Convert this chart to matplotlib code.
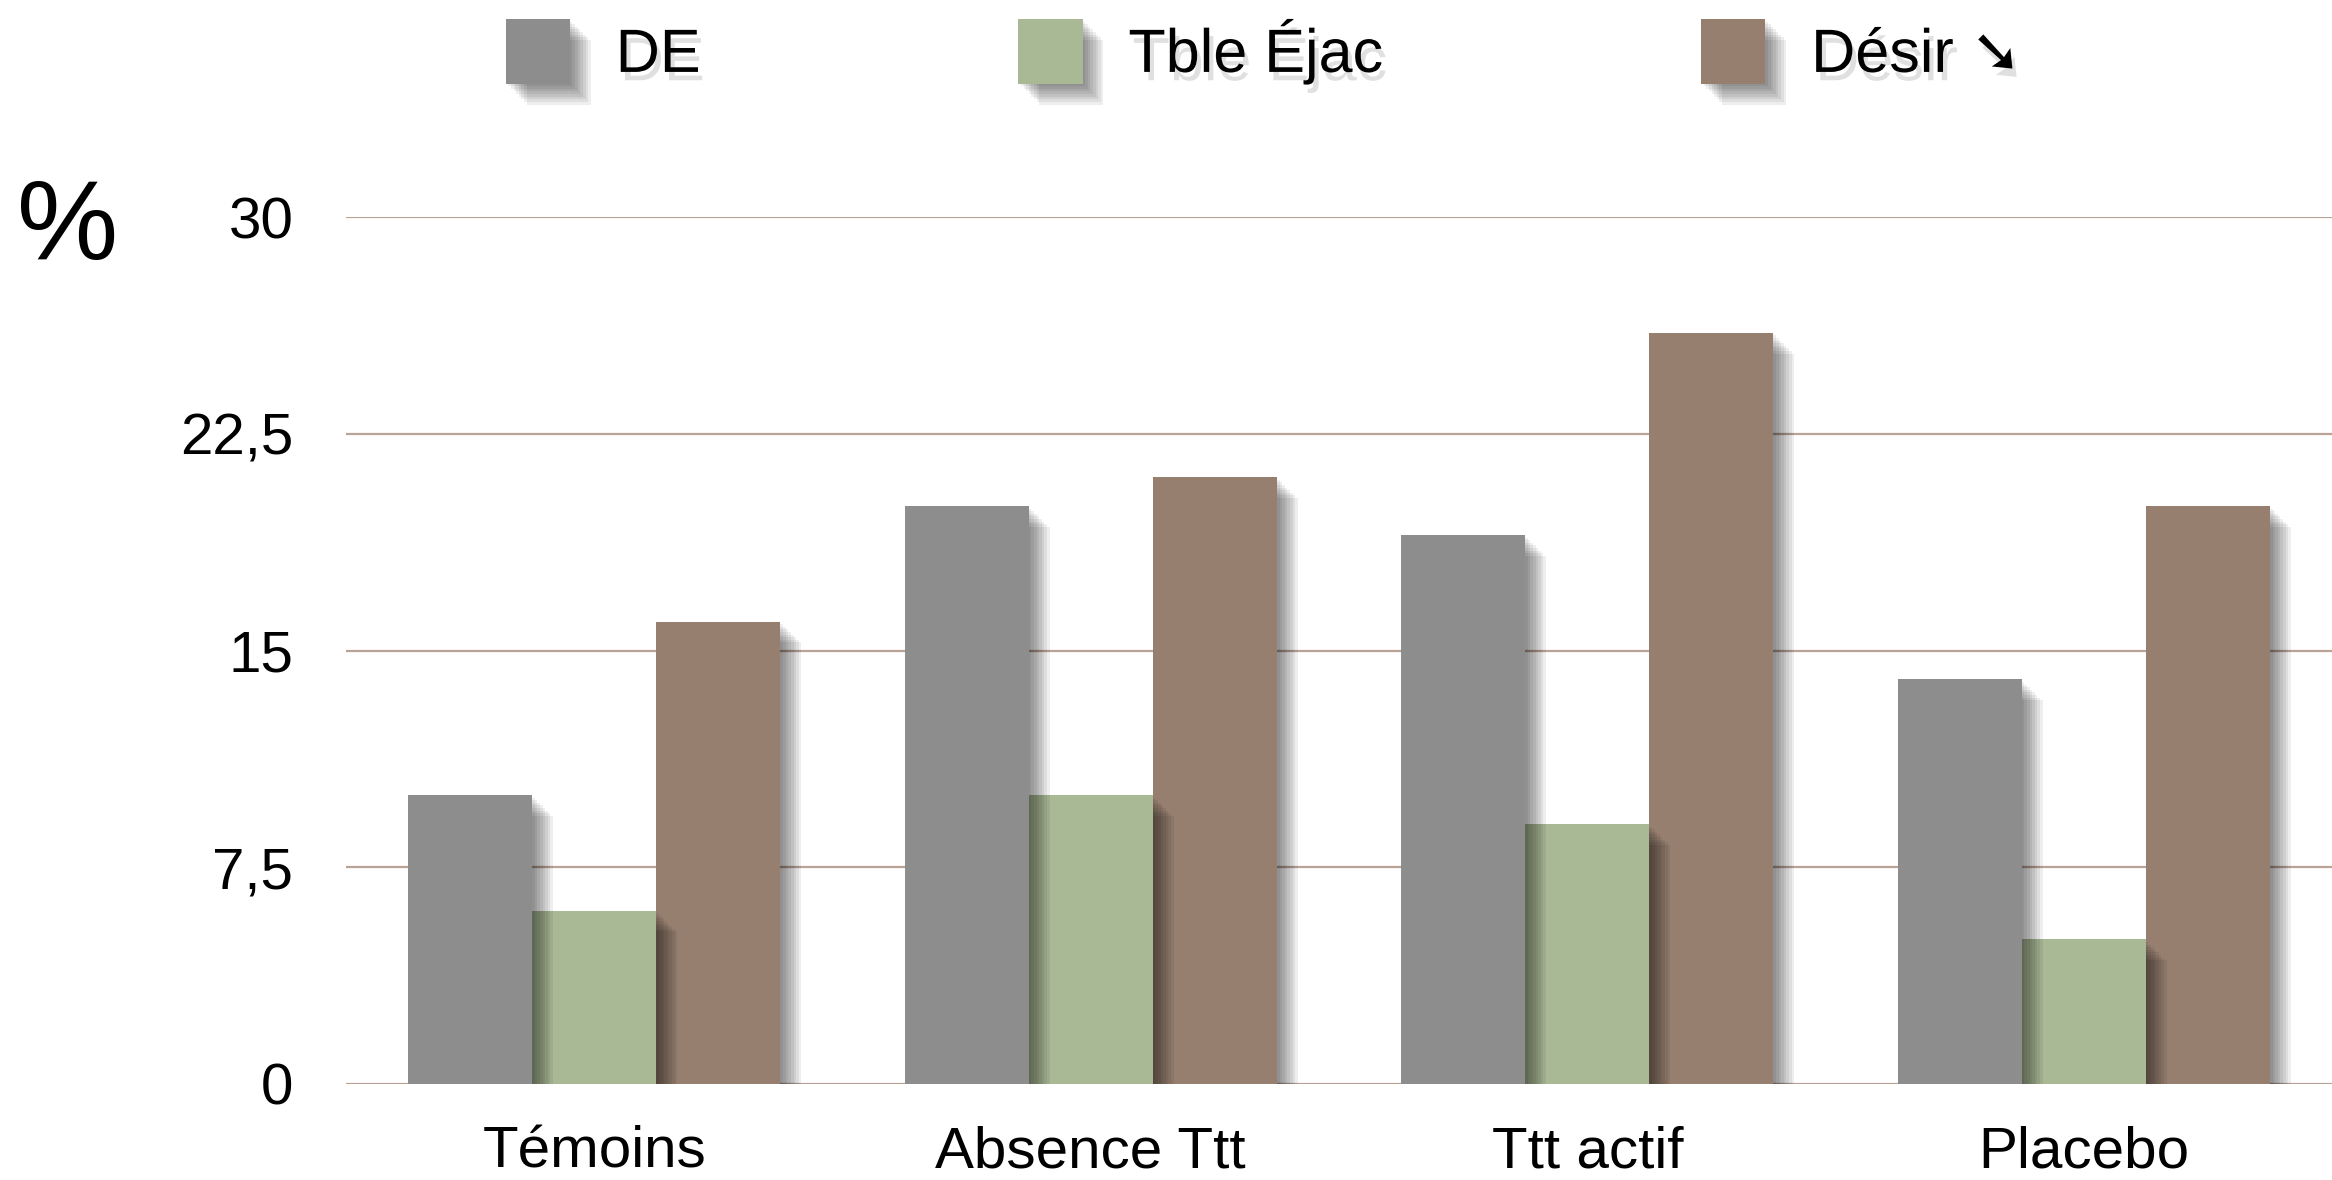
import numpy as np
import matplotlib
matplotlib.use('Agg')
import matplotlib.pyplot as plt
import matplotlib.patheffects as pe

plt.rcParams['font.family'] = ['Liberation Sans', 'DejaVu Sans']

categories = ['Témoins', 'Absence Ttt', 'Ttt actif', 'Placebo']
series_names = ['DE', 'Tble Éjac', 'Désir ➘']
de_values = [10, 20, 19, 14]
ejac_values = [6, 10, 9, 5]
desir_values = [16, 21, 26, 20]
y_ticks = [0, 7.5, 15, 22.5, 30]
y_tick_labels = ['0', '7,5', '15', '22,5', '30']

colors = ['#8d8d8d', '#aab995', '#977f6f']
series = [de_values, ejac_values, desir_values]


def shadow(offset, steps=8, alpha=0.065):
    effects = [pe.SimplePatchShadow(offset=(offset * k / steps, -offset * k / steps),
                                    shadow_rgbFace='black', alpha=alpha)
               for k in range(1, steps + 1)]
    return effects + [pe.Normal()]


fig = plt.figure(figsize=(23.32, 11.8), dpi=100)
ax = fig.add_axes([0.1484, 0.0814, 0.8516, 0.7346])

x = np.arange(len(categories))
width = 0.25
bars = []
# drawn so that the left bar sits above its neighbour's shadow
for i in range(3):
    b = ax.bar(x + (i - 1) * width, series[i], width, color=colors[i],
               label=series_names[i], zorder=10 - i,
               path_effects=shadow(15))
    bars.append(b)

ax.set_xlim(-0.5, 3.5)
ax.set_ylim(0, 30)
ax.set_yticks(y_ticks)
ax.set_yticklabels(y_tick_labels)
ax.set_xticks(x)
ax.set_xticklabels(categories)
ax.tick_params(axis='both', length=0, labelsize=42, colors='black')
ax.tick_params(axis='y', pad=38)
ax.tick_params(axis='x', pad=30)
ax.yaxis.grid(True, color='#b9a397', linewidth=1.6, zorder=0)
ax.set_axisbelow(True)
for s in ax.spines.values():
    s.set_visible(False)

fig.text(0.029, 0.805, '%', fontsize=82, ha='center', va='center')

leg = fig.legend(handles=bars, labels=series_names, loc='center',
                 bbox_to_anchor=(0.542, 0.956), ncol=3, frameon=False,
                 fontsize=44, columnspacing=5.2, handlelength=1.05,
                 handleheight=1.25, handletextpad=0.75)
for t in leg.get_texts():
    t.set_path_effects([pe.SimplePatchShadow(offset=(3, -6), alpha=0.12), pe.Normal()])

fig.savefig('out.png', dpi=100)
